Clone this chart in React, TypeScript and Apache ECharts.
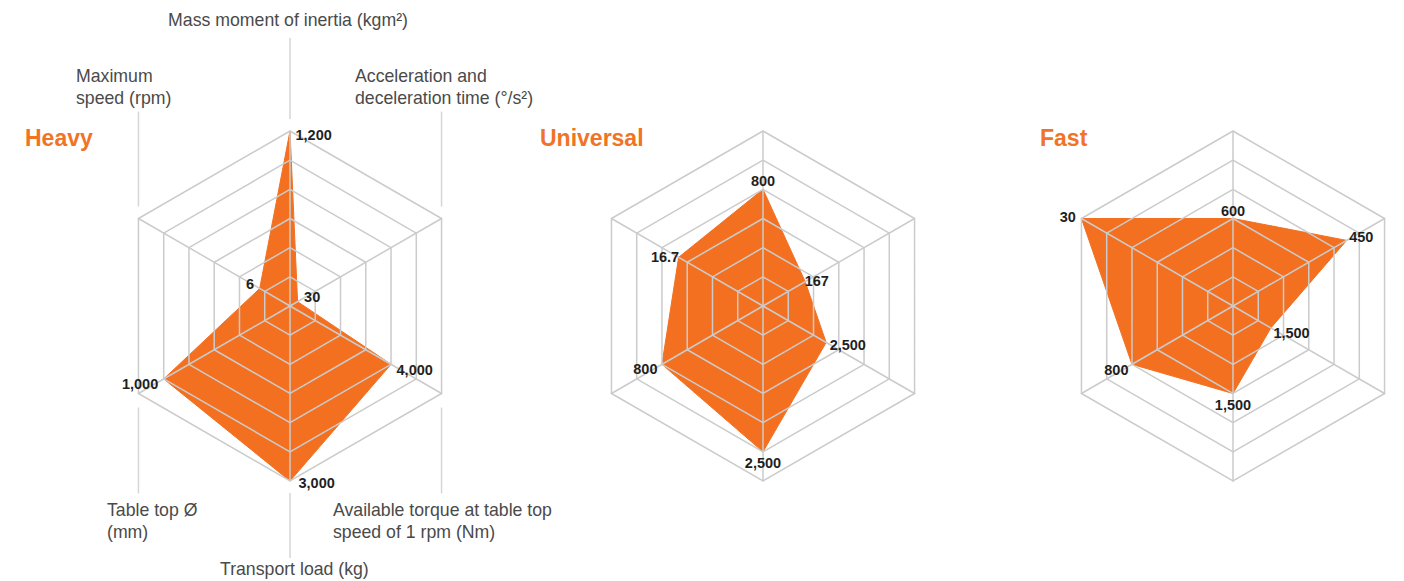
import React, { useEffect, useRef } from 'react';
import * as echarts from 'echarts';

// ---------- data ----------
const chartTitles = ['Heavy', 'Universal', 'Fast'];
// indicator order: top, upper-left, lower-left, bottom, lower-right, upper-right (counter-clockwise)
const indicatorNames = [
  'Mass moment of inertia (kgm²)',
  'Maximum speed (rpm)',
  'Table top Ø (mm)',
  'Transport load (kg)',
  'Available torque at table top speed of 1 rpm (Nm)',
  'Acceleration and deceleration time (°/s²)',
];
const indicatorMax = [1200, 30, 1200, 3000, 6000, 600];
const heavyValues = [1200, 6, 1000, 3000, 4000, 30];
const universalValues = [800, 16.7, 800, 2500, 2500, 167];
const fastValues = [600, 30, 800, 1500, 1500, 450];
const seriesValues = [heavyValues, universalValues, fastValues];

// ---------- layout / style ----------
const ORANGE = '#f37021';
const TITLE_ORANGE = '#f07326';
const GRID = '#cbcbcb';
const EXT = '#d6d6d6';
const TEXT = '#4a4a4a';
const FONT = '"Liberation Sans", Arial, Helvetica, sans-serif';
const CENTERS_X = [290, 763, 1233];
const CY = 306;
const R = 175;
const TITLE_X = [25, 540, 1040];

type Placement = [string, number, number];
const labelPlacement: Placement[][] = [
  [['right', 0, 4], ['left', 0, -5], ['left', 0, 5], ['right', 3, 2], ['right', 0, 6], ['right', 1, -5]],
  [['top', 0, 5], ['left', 6, 0], ['left', 1, 5], ['bottom', 0, -2], ['right', -2, 3], ['right', -6, -1]],
  [['top', 0, 5], ['left', 0, -2], ['left', 2, 6], ['bottom', 0, -2], ['right', -3, 5], ['right', -3, -3]],
];

function fmt(v: number): string {
  return v.toLocaleString('en-US');
}

function buildOption() {
  const radar = CENTERS_X.map((cx) => ({
    center: [cx, CY],
    radius: R,
    startAngle: 90,
    splitNumber: 6,
    shape: 'polygon',
    z: 3,
    indicator: indicatorNames.map((name, i) => ({ name, min: 0, max: indicatorMax[i] })),
    axisName: { show: false },
    axisLine: { lineStyle: { color: GRID, width: 1.5 } },
    splitLine: { lineStyle: { color: GRID, width: 1.5 } },
    splitArea: { show: false },
    axisTick: { show: false },
    axisLabel: { show: false },
  }));

  const series: any[] = [];
  seriesValues.forEach((vals, ci) => {
    series.push({
      type: 'radar',
      radarIndex: ci,
      z: 2,
      silent: true,
      symbol: 'none',
      lineStyle: { color: ORANGE, width: 1 },
      areaStyle: { color: ORANGE, opacity: 1 },
      data: [{ value: vals, name: chartTitles[ci] }],
    });
    vals.forEach((_, d) => {
      const [pos, ox, oy] = labelPlacement[ci][d];
      series.push({
        type: 'radar',
        radarIndex: ci,
        z: 5,
        silent: true,
        symbol: 'circle',
        symbolSize: 1,
        itemStyle: { color: 'rgba(0,0,0,0)' },
        lineStyle: { width: 0, opacity: 0 },
        label: {
          show: true,
          position: pos,
          offset: [ox, oy],
          distance: 5,
          color: '#1f1f1f',
          fontSize: 14.5,
          fontWeight: 'bold',
          fontFamily: FONT,
          formatter: (p: any) => (p.dimensionIndex === d ? fmt(p.value) : ''),
        },
        data: [{ value: vals }],
      });
    });
  });

  // Heavy axis-name decorations
  const cx = CENTERS_X[0];
  const hx = R * Math.cos(Math.PI / 6);
  const hy = R * Math.sin(Math.PI / 6);
  const lineStyle = { stroke: EXT, lineWidth: 1.5 };
  const extLines = [
    [cx, CY - R - 93, cx, CY - R - 12],
    [cx - hx, CY - hy - 107, cx - hx, CY - hy - 12],
    [cx + hx, CY - hy - 107, cx + hx, CY - hy - 12],
    [cx - hx, CY + hy + 14, cx - hx, CY + hy + 100],
    [cx + hx, CY + hy + 14, cx + hx, CY + hy + 100],
    [cx, CY + R + 12, cx, CY + R + 77],
  ].map(([x1, y1, x2, y2]) => ({
    type: 'line',
    silent: true,
    shape: { x1, y1, x2, y2 },
    style: lineStyle,
  }));

  const nameText = (text: string, x: number, y: number, align: string, vAlign: string) => ({
    type: 'text',
    silent: true,
    x,
    y,
    style: {
      text,
      fill: TEXT,
      fontSize: 17.7,
      fontFamily: FONT,
      lineHeight: 22,
      align,
      verticalAlign: vAlign,
    },
  });

  const names = [
    nameText('Mass moment of inertia (kgm²)', 288, 20, 'center', 'middle'),
    nameText('Maximum\nspeed (rpm)', 76, 65, 'left', 'top'),
    nameText('Acceleration and\ndeceleration time (°/s²)', 355, 65, 'left', 'top'),
    nameText('Table top Ø\n(mm)', 107, 499, 'left', 'top'),
    nameText('Available torque at table top\nspeed of 1 rpm (Nm)', 333, 499, 'left', 'top'),
    nameText('Transport load (kg)', 220, 569, 'left', 'middle'),
  ];

  const titles = chartTitles.map((t, i) => ({
    type: 'text',
    silent: true,
    x: TITLE_X[i],
    y: 138,
    style: {
      text: t,
      fill: TITLE_ORANGE,
      fontSize: 23,
      fontWeight: 'bold',
      fontFamily: FONT,
      align: 'left',
      verticalAlign: 'middle',
    },
  }));

  return {
    animation: false,
    backgroundColor: '#ffffff',
    radar,
    series,
    graphic: [...extLines, ...names, ...titles],
  };
}

export default function App() {
  const ref = useRef<HTMLDivElement>(null);
  useEffect(() => {
    if (!ref.current) return;
    const chart = echarts.init(ref.current, undefined, { renderer: 'svg' });
    chart.setOption(buildOption() as any);
    return () => chart.dispose();
  }, []);
  return (
    <div
      ref={ref}
      style={{ position: 'absolute', left: 0, top: 0, width: 1404, height: 581 }}
    />
  );
}
